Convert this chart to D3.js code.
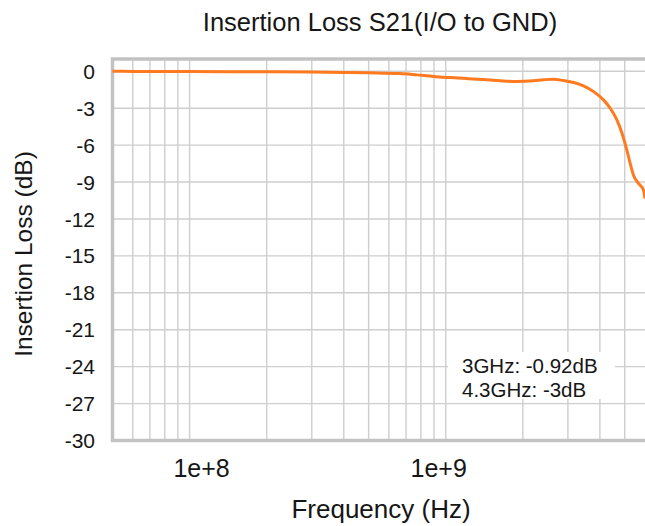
<!DOCTYPE html>
<html>
<head>
<meta charset="utf-8">
<script src="https://cdn.jsdelivr.net/npm/d3@7"></script>
<style>
  html, body { margin: 0; padding: 0; background: #fff; }
  svg { display: block; }
  text { font-family: "Liberation Sans", Arial, sans-serif; fill: #161616; }
</style>
</head>
<body>
<svg id="chart" width="645" height="526"></svg>
<script>
// ---- data ----
const freqHz = [5e7, 6e7, 8e7, 1e8, 1.5e8, 2e8, 3e8, 4e8, 5e8, 6.64e8, 7.7e8, 8.96e8,
  1.04e9, 1.21e9, 1.40e9, 1.63e9, 1.90e9, 2.2e9, 2.41e9, 2.63e9, 2.88e9, 3.16e9,
  3.45e9, 3.78e9, 4.13e9, 4.39e9, 4.66e9, 4.88e9, 5.1e9, 5.25e9, 5.41e9, 5.66e9,
  5.92e9, 6.0e9];
const lossDb = [0, -0.01, -0.02, -0.02, -0.03, -0.04, -0.06, -0.09, -0.12, -0.18, -0.29, -0.42,
  -0.51, -0.59, -0.67, -0.77, -0.83, -0.77, -0.69, -0.64, -0.75, -0.91,
  -1.18, -1.65, -2.32, -3.0, -3.95, -5.04, -6.42, -7.48, -8.44, -9.11,
  -9.66, -10.33];
const yTicks = [0, -3, -6, -9, -12, -15, -18, -21, -24, -27, -30];
const xLabelTicks = [1e8, 1e9];
const xGridTicks = [6e7, 7e7, 8e7, 9e7, 1e8, 2e8, 3e8, 4e8, 5e8, 6e8, 7e8, 8e8, 9e8,
  1e9, 2e9, 3e9, 4e9, 5e9];
const notes = ["3GHz: -0.92dB", "4.3GHz: -3dB"];
const title = "Insertion Loss S21(I/O to GND)";
const xTitle = "Frequency (Hz)";
const yTitle = "Insertion Loss (dB)";

// ---- layout ----
const svg = d3.select("#chart");
const mLeft = 112.5, mTop = 59, mBottom = 440.5, mRight = 645;
const x = d3.scaleLog().domain([5e7, 6e9]).range([mLeft, mRight]);
const y = d3.scaleLinear().domain([-30, 1]).range([mBottom, mTop]);

// grid
const grid = svg.append("g").attr("stroke", "#cecece").attr("stroke-width", 1.4);
grid.selectAll("line.v").data(xGridTicks).join("line").attr("class", "v")
  .attr("x1", d => x(d)).attr("x2", d => x(d)).attr("y1", mTop).attr("y2", mBottom);
grid.selectAll("line.h").data(yTicks.filter(d => d > -30)).join("line").attr("class", "h")
  .attr("x1", mLeft).attr("x2", mRight + 5).attr("y1", d => y(d)).attr("y2", d => y(d));

// frame (left, top, bottom)
const frame = svg.append("g").attr("stroke", "#c2c2c2").attr("stroke-width", 3.5).attr("fill", "none");
frame.append("path").attr("d", `M${mRight + 5},${mTop}H${mLeft}V${mBottom}H${mRight + 5}`);

// curve
const line = d3.line().x(d => x(d[0])).y(d => y(d[1])).curve(d3.curveMonotoneX);
svg.append("path").datum(d3.zip(freqHz, lossDb))
  .attr("fill", "none").attr("stroke", "#ff7a1e").attr("stroke-width", 3)
  .attr("stroke-linejoin", "round").attr("d", line);

// annotation box
const noteG = svg.append("g");
noteG.append("rect").attr("x", 448).attr("y", 352).attr("width", 167).attr("height", 47).attr("fill", "#fff");
noteG.selectAll("text").data(notes).join("text")
  .attr("x", 462).attr("y", (d, i) => 373 + i * 24)
  .attr("font-size", 20.5).text(d => d);

// y ticks
svg.append("g").selectAll("text").data(yTicks).join("text")
  .attr("x", 95).attr("y", d => y(d)).attr("dy", "0.36em")
  .attr("text-anchor", "end").attr("font-size", 21).text(d => d);

// x tick labels
svg.append("g").selectAll("text").data(xLabelTicks).join("text")
  .attr("x", (d, i) => x(d) + (i === 0 ? 12 : -7)).attr("y", 477)
  .attr("text-anchor", "middle").attr("font-size", 25)
  .text(d => "1e+" + Math.round(Math.log10(d)));

// titles
svg.append("text").attr("x", 380).attr("y", 31).attr("text-anchor", "middle")
  .attr("font-size", 25.5).text(title);
svg.append("text").attr("x", 381).attr("y", 518).attr("text-anchor", "middle")
  .attr("font-size", 26).text(xTitle);
svg.append("text").attr("transform", "translate(32,254) rotate(-90)")
  .attr("text-anchor", "middle").attr("font-size", 24.5).text(yTitle);
</script>
</body>
</html>
